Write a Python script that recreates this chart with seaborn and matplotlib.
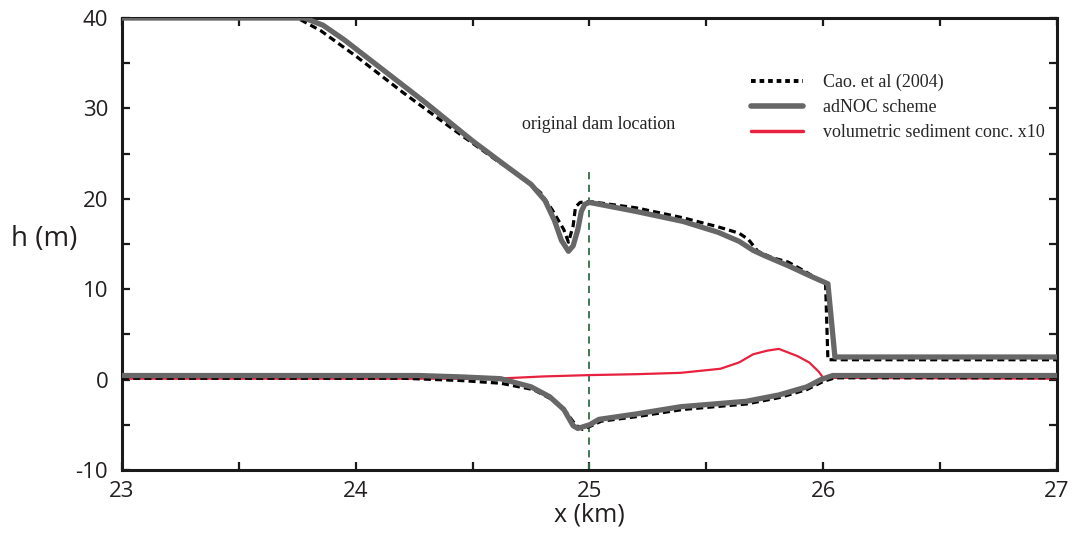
import matplotlib
matplotlib.use("Agg")
import matplotlib.pyplot as plt
from matplotlib.lines import Line2D
from matplotlib.ticker import MultipleLocator
import numpy as np
import pandas as pd
import seaborn as sns

# Water surface, adNOC scheme (km, m)
adnoc_h_x = [23.0, 23.78, 23.86, 23.95, 24.1, 24.3, 24.5, 24.65, 24.75, 24.81, 24.85,
             24.88, 24.91, 24.93, 24.95, 24.965, 24.98, 25.0, 25.2, 25.4, 25.55, 25.64,
             25.7, 25.75, 25.85, 25.95, 26.02, 26.05, 27.0]
adnoc_h_y = [40, 40, 39.2, 37.6, 34.6, 30.6, 26.4, 23.5, 21.6, 19.8, 17.6,
             15.4, 14.2, 14.8, 16.6, 18.6, 19.4, 19.6, 18.6, 17.5, 16.3, 15.3,
             14.3, 13.7, 12.6, 11.4, 10.6, 2.5, 2.5]

# Water surface, Cao et al. (2004)
cao_h_x = [23.0, 23.75, 23.85, 24.0, 24.2, 24.4, 24.6, 24.72, 24.79, 24.84, 24.89,
           24.91, 24.93, 24.94, 24.96, 25.0, 25.2, 25.4, 25.55, 25.64, 25.68, 25.72,
           25.78, 25.85, 25.92, 26.01, 26.02, 27.0]
cao_h_y = [40, 40, 38.6, 35.8, 31.8, 28.0, 24.3, 22.2, 20.7, 18.8, 16.6,
           15.2, 17.0, 19.1, 19.6, 19.7, 19.0, 17.9, 16.9, 16.2, 15.5, 14.2,
           13.5, 13.0, 12.0, 10.6, 2.2, 2.2]

# Bed elevation, adNOC scheme
adnoc_z_x = [23.0, 24.27, 24.45, 24.62, 24.75, 24.83, 24.89, 24.93, 24.95, 25.0, 25.04,
             25.2, 25.39, 25.67, 25.81, 25.93, 25.99, 26.04, 27.0]
adnoc_z_y = [0.45, 0.45, 0.3, 0.1, -0.8, -1.9, -3.3, -5.1, -5.4, -5.0, -4.4,
             -3.8, -3.0, -2.4, -1.7, -0.8, 0.0, 0.45, 0.45]

# Bed elevation, Cao et al. (2004)
cao_z_x = [23.0, 24.2, 24.45, 24.62, 24.76, 24.84, 24.9, 24.94, 24.97, 25.0, 25.05,
           25.2, 25.4, 25.67, 25.81, 25.93, 26.0, 26.05, 27.0]
cao_z_y = [0.15, 0.15, -0.1, -0.4, -1.1, -2.2, -3.6, -5.0, -5.5, -5.2, -4.6,
           -4.1, -3.3, -2.7, -2.0, -1.1, -0.2, 0.2, 0.2]

# Volumetric sediment concentration (x10)
conc_x = [23.0, 24.6, 24.8, 25.0, 25.2, 25.39, 25.56, 25.64, 25.7, 25.76, 25.81,
          25.84, 25.89, 25.94, 25.98, 26.0, 27.0]
conc_y = [0.1, 0.1, 0.35, 0.5, 0.6, 0.75, 1.2, 1.9, 2.8, 3.2, 3.4,
          3.1, 2.6, 1.9, 0.9, 0.2, 0.1]

dam_x = 25.0
legend_labels = ["Cao. et al (2004)", "adNOC scheme", "volumetric sediment conc. x10"]

sns.set_theme(style="white")
plt.rcParams["font.family"] = ["Open Sans", "DejaVu Sans"]
plt.rcParams["axes.unicode_minus"] = False

GRAY = "#676767"
RED = "#e8213f"
GREEN = "#2f6e45"
DASH = (0, (2.2, 1.3))

fig = plt.figure(figsize=(10.77, 5.36), dpi=100)
ax = fig.add_axes([0.1133, 0.1231, 0.8681, 0.8433])

def draw(xs, ys, **kw):
    df = pd.DataFrame({"x": xs, "y": ys})
    sns.lineplot(data=df, x="x", y="y", ax=ax, sort=False, estimator=None, **kw)

draw(conc_x, conc_y, color=RED, lw=1.6, zorder=2)
draw(cao_h_x, cao_h_y, color="black", lw=2.3, linestyle=DASH, zorder=3)
draw(cao_z_x, cao_z_y, color="black", lw=2.3, linestyle=DASH, zorder=3)
draw(adnoc_h_x, adnoc_h_y, color=GRAY, lw=3.8, zorder=4, solid_capstyle="round",
     solid_joinstyle="round")
draw(adnoc_z_x, adnoc_z_y, color=GRAY, lw=3.8, zorder=4, solid_capstyle="round",
     solid_joinstyle="round")

# Original dam location
ax.plot([dam_x, dam_x], [-10, 23.3], color=GREEN, lw=1.3, linestyle=(0, (4, 3)), zorder=1)
ax.text(25.04, 28.2, "original dam location", ha="center", va="center",
        family="Liberation Serif", fontsize=13, color="#222222")

ax.set_xlim(23, 27)
ax.set_ylim(-10, 40)
ax.xaxis.set_major_locator(MultipleLocator(1))
ax.xaxis.set_minor_locator(MultipleLocator(0.5))
ax.yaxis.set_major_locator(MultipleLocator(10))
ax.yaxis.set_minor_locator(MultipleLocator(5))
ax.tick_params(which="both", direction="in", length=6, width=1.6, color="#1a1a1a",
               top=True, right=True, bottom=True, left=True)
ax.tick_params(which="major", labelsize=16, labelcolor="#231f20")
ax.tick_params(axis="y", pad=10)
ax.tick_params(axis="x", pad=8)
for sp in ax.spines.values():
    sp.set_linewidth(2.2)
    sp.set_color("#1a1a1a")
    sp.set_visible(True)

ax.set_xlabel("x (km)", fontsize=18, color="#231f20", va="center")
ax.set_ylabel("h (m)", fontsize=20, color="#231f20", rotation=0, va="center", ha="center")
ax.xaxis.set_label_coords(0.5, -0.1)
ax.yaxis.set_label_coords(-0.083, 0.51)

handles = [
    Line2D([], [], color="black", lw=2.8, linestyle=(0, (1.2, 1.0))),
    Line2D([], [], color=GRAY, lw=4.0),
    Line2D([], [], color=RED, lw=2.5),
]
leg = ax.legend(handles, legend_labels, loc="upper left", bbox_to_anchor=(0.655, 0.913),
                frameon=False, prop={"family": "Liberation Serif", "size": 13},
                handlelength=2.9, handletextpad=1.1, labelspacing=0.45)

fig.savefig("out.png", dpi=100, facecolor="white")
